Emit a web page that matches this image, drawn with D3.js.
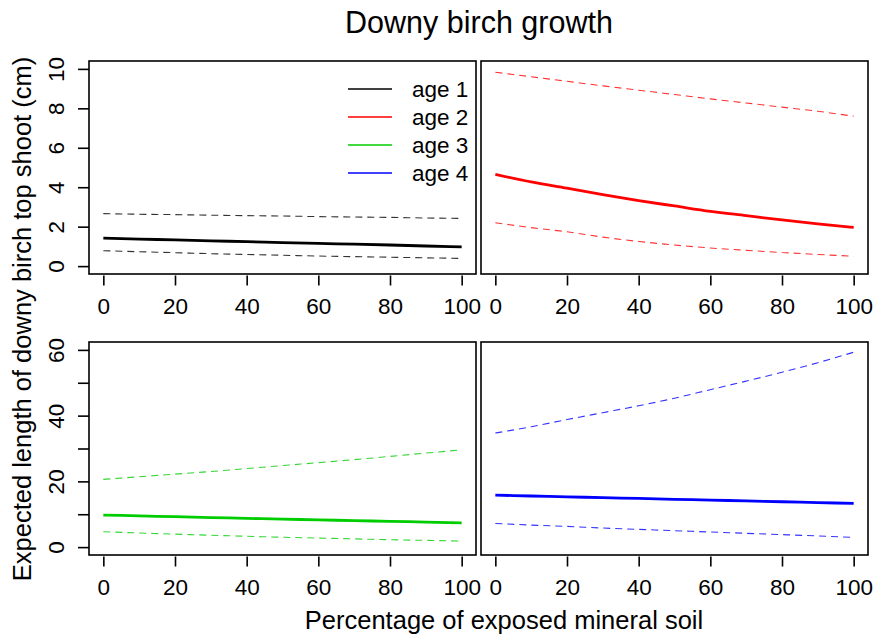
<!DOCTYPE html>
<html>
<head>
<meta charset="utf-8">
<script src="https://cdn.jsdelivr.net/npm/d3@7"></script>
<style>
  body{margin:0;background:#fff;}
  svg text{font-family:"Liberation Sans",Arial,sans-serif;fill:#000;}
</style>
</head>
<body>
<div id="myChart" style="width:875px;height:634px;"></div>
<script>
/*x轴数据*/
var xVals=[0,10,20,30,40,50,60,70,80,90,100];
var xTicks=[0,20,40,60,80,100];
/*y轴刻度*/
var yTicksTop=[0,2,4,6,8,10];
var yTicksBottom=[0,10,20,30,40,50,60];
var yLabelsBottom=[0,20,40,60];
/*图例*/
var ages=["age 1","age 2","age 3","age 4"];
var ageColors=["#000000","#FF0000","#00CD00","#0000FF"];
/*age 1*/
var mean1=[1.42,1.37,1.33,1.28,1.24,1.19,1.15,1.11,1.07,1.02,0.98];
var upper1=[2.66,2.63,2.61,2.58,2.56,2.54,2.51,2.49,2.47,2.44,2.42];
var lower1=[0.78,0.73,0.68,0.63,0.59,0.55,0.51,0.48,0.45,0.42,0.39];
/*age 2*/
var mean2=[4.65,4.27,3.95,3.62,3.32,3.05,2.78,2.56,2.34,2.14,1.96];
var upper2=[9.83,9.6,9.37,9.14,8.92,8.7,8.48,8.27,8.06,7.85,7.6];
var lower2=[2.2,1.95,1.74,1.47,1.25,1.07,0.92,0.8,0.69,0.59,0.5];
/*age 3*/
var mean3=[9.75,9.5,9.25,9.0,8.75,8.5,8.3,8.05,7.85,7.6,7.4];
var upper3=[20.6,21.4,22.2,23.0,23.9,24.8,25.7,26.6,27.6,28.6,29.6];
var lower3=[4.67,4.3,3.95,3.6,3.3,3.0,2.75,2.5,2.25,2.05,1.83];
/*age 4*/
var mean4=[15.8,15.55,15.3,15.05,14.8,14.55,14.3,14.05,13.8,13.55,13.3];
var upper4=[34.7,36.6,38.8,40.9,43.0,45.3,47.9,50.5,53.2,56.1,59.3];
var lower4=[7.2,6.7,6.3,5.8,5.4,5.0,4.6,4.2,3.8,3.4,2.95];

var svg=d3.select("#myChart").append("svg")
    .attr("width",875)
    .attr("height",634);

/*面板布局*/
var panelW=387, panelH=213;
var panels=[
    {left:89, top:61, ylim:[0,10], yTicks:yTicksTop, yLabels:yTicksTop, yAxis:true,
     mean:mean1, upper:upper1, lower:lower1, color:ageColors[0], legend:true},
    {left:481, top:61, ylim:[0,10], yTicks:yTicksTop, yLabels:yTicksTop, yAxis:false,
     mean:mean2, upper:upper2, lower:lower2, color:ageColors[1]},
    {left:89, top:342, ylim:[0,60], yTicks:yTicksBottom, yLabels:yLabelsBottom, yAxis:true,
     mean:mean3, upper:upper3, lower:lower3, color:ageColors[2]},
    {left:481, top:342, ylim:[0,60], yTicks:yTicksBottom, yLabels:yLabelsBottom, yAxis:false,
     mean:mean4, upper:upper4, lower:lower4, color:ageColors[3]}
];

panels.forEach(function(p){
    var g=svg.append("g").attr("transform","translate("+p.left+","+p.top+")");
    /*R风格4%扩展*/
    var x=d3.scaleLinear().domain([-4,104]).range([0,panelW]);
    var yr=p.ylim[1]-p.ylim[0];
    var y=d3.scaleLinear().domain([p.ylim[0]-0.04*yr,p.ylim[1]+0.04*yr]).range([panelH,0]);

    var line=d3.line()
        .x(function(d,i){return x(xVals[i]);})
        .y(function(d){return y(d);})
        .curve(d3.curveMonotoneX);

    /*置信区间虚线*/
    [p.upper,p.lower].forEach(function(s){
        g.append("path")
            .attr("d",line(s))
            .attr("fill","none")
            .attr("stroke",p.color)
            .attr("stroke-opacity",0.8)
            .attr("stroke-width",1.1)
            .attr("stroke-dasharray","7,5");
    });
    /*均值线*/
    g.append("path")
        .attr("d",line(p.mean))
        .attr("fill","none")
        .attr("stroke",p.color)
        .attr("stroke-width",2.8);

    /*边框*/
    g.append("rect")
        .attr("width",panelW)
        .attr("height",panelH)
        .attr("fill","none")
        .attr("stroke","#000")
        .attr("stroke-width",1.6);

    /*x轴*/
    var xAxis=d3.axisBottom(x)
        .tickValues(xTicks)
        .tickSize(10)
        .tickPadding(13);
    var gx=g.append("g")
        .attr("transform","translate(0,"+(panelH+1.5)+")")
        .call(xAxis);
    gx.select(".domain").remove();
    gx.selectAll("line").attr("stroke-width",1.6);
    gx.selectAll("text")
        .style("font-size","22.5px")
        .attr("dy","0.71em");

    /*y轴*/
    if(p.yAxis){
        var yAxis=d3.axisLeft(y)
            .tickValues(p.yTicks)
            .tickSize(11)
            .tickFormat(function(d){return p.yLabels.indexOf(d)>=0?d:"";});
        var gy=g.append("g").call(yAxis);
        gy.select(".domain").remove();
        gy.selectAll("line").attr("stroke-width",1.6);
        gy.selectAll("text")
            .style("font-size","22.5px")
            .attr("x",0)
            .attr("dy",0)
            .attr("text-anchor","middle")
            .attr("transform","translate(-25,0) rotate(-90)");
    }

    /*图例*/
    if(p.legend){
        var lg=g.append("g").attr("transform","translate("+(348-p.left)+","+(89-p.top)+")");
        ages.forEach(function(a,i){
            lg.append("line")
                .attr("x1",0).attr("x2",44)
                .attr("y1",i*28).attr("y2",i*28)
                .attr("stroke",ageColors[i])
                .attr("stroke-width",1.6);
            lg.append("text")
                .attr("x",64)
                .attr("y",i*28)
                .attr("dy","0.35em")
                .style("font-size","22.5px")
                .text(a);
        });
    }
});

/*标题与轴标题*/
svg.append("text")
    .attr("x",479)
    .attr("y",33)
    .attr("text-anchor","middle")
    .style("font-size","30.5px")
    .text("Downy birch growth");
svg.append("text")
    .attr("x",504)
    .attr("y",629)
    .attr("text-anchor","middle")
    .style("font-size","25.5px")
    .text("Percentage of exposed mineral soil");
svg.append("text")
    .attr("transform","translate(31,319) rotate(-90)")
    .attr("text-anchor","middle")
    .style("font-size","25.5px")
    .text("Expected length of downy birch top shoot (cm)");
</script>
</body>
</html>
